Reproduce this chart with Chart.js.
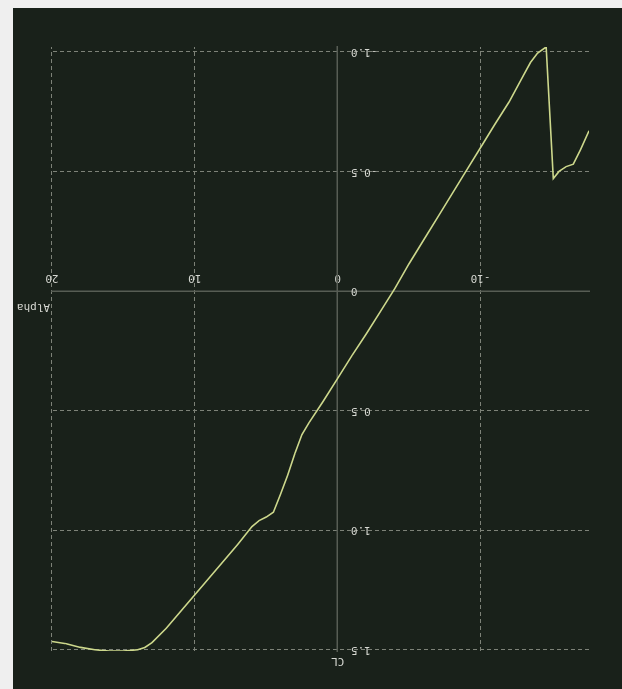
<!DOCTYPE html>
<html>
<head>
<meta charset="utf-8">
<script src="https://cdn.jsdelivr.net/npm/chart.js@4"></script>
<style>
  html, body { margin: 0; padding: 0; background: #efefef; }
  #page { position: absolute; left: 0; top: 0; width: 622px; height: 689px; transform: rotate(180deg); }
  #box { position: absolute; left: 0; top: 0; width: 609px; height: 681px; background: #19211a; }
</style>
</head>
<body>
<div id="page"><div id="box"><canvas id="polarChart"></canvas></div></div>
<script>
// lift polar: angle of attack (deg) vs lift coefficient
const alpha = [-17.6, -17.0, -16.5, -16.0, -15.5, -15.1, -14.6, -14.0, -13.5, -13.0,
  -12.0, -11.0, -10.0, -9.0, -8.0, -7.0, -6.0, -5.0, -4.0, -3.0,
  -2.0, -1.0, 0.0, 1.0, 2.0, 2.5, 3.0, 3.5, 4.0, 4.5,
  5.0, 5.5, 6.0, 7.0, 8.0, 9.0, 10.0, 11.0, 12.0, 13.0,
  13.5, 14.0, 15.0, 16.0, 17.0, 18.0, 19.0, 20.0];
const cl = [-0.67, -0.59, -0.53, -0.52, -0.50, -0.47, -1.02, -0.995, -0.955, -0.90,
  -0.79, -0.696, -0.599, -0.502, -0.405, -0.308, -0.211, -0.114, -0.01, 0.085,
  0.18, 0.27, 0.365, 0.46, 0.55, 0.60, 0.68, 0.77, 0.85, 0.925,
  0.945, 0.96, 0.985, 1.06, 1.13, 1.20, 1.27, 1.34, 1.41, 1.47,
  1.49, 1.50, 1.505, 1.505, 1.50, 1.49, 1.475, 1.465];

const xTicks = [-10, 0, 10, 20];
const yTicks = [-1.0, -0.5, 0, 0.5, 1.0, 1.5];
const xTitle = 'Alpha';
const yTitle = 'CL';

const textColor = '#d6d8d2';
const gridColor = '#7d8278';
const axisColor = '#575d54';
const fontSpec = { family: '"DejaVu Sans Mono", monospace', size: 11 };

// axis names sit at the ends of the crossing axes
const axisTitles = {
  id: 'axisTitles',
  afterDraw(chart) {
    const { ctx, chartArea, scales } = chart;
    const x0 = scales.x.getPixelForValue(0);
    const y0 = scales.y.getPixelForValue(0);
    ctx.save();
    ctx.fillStyle = textColor;
    ctx.font = '11px "DejaVu Sans Mono", monospace';
    ctx.textBaseline = 'middle';
    ctx.textAlign = 'left';
    ctx.fillText(xTitle, chartArea.right + 2, y0 - 16);
    ctx.textAlign = 'center';
    ctx.fillText(yTitle, x0, chartArea.top - 10);
    ctx.restore();
  }
};

new Chart(document.getElementById('polarChart'), {
  type: 'line',
  data: {
    datasets: [{
      data: alpha.map((a, i) => ({ x: a, y: cl[i] })),
      borderColor: '#cdd88c',
      borderWidth: 1.6,
      pointRadius: 0,
      tension: 0
    }]
  },
  options: {
    responsive: true,
    maintainAspectRatio: false,
    animation: false,
    layout: { padding: { left: 33, right: 39, top: 38, bottom: 39 } },
    plugins: { legend: { display: false }, tooltip: { enabled: false } },
    scales: {
      x: {
        type: 'linear',
        position: { y: 0 },
        min: Math.min(...alpha),
        max: Math.max(...alpha),
        afterBuildTicks: s => { s.ticks = xTicks.map(v => ({ value: v })); },
        grid: {
          color: c => (c.tick && c.tick.value === 0 ? 'transparent' : gridColor),
          lineWidth: 1,
          drawTicks: false
        },
        border: { color: axisColor, width: 1.5, dash: [4, 3] },
        ticks: { color: textColor, font: fontSpec, padding: 7, maxRotation: 0, autoSkip: false }
      },
      y: {
        type: 'linear',
        position: { x: 0 },
        min: Math.min(...cl),
        max: Math.max(...cl),
        afterBuildTicks: s => { s.ticks = yTicks.map(v => ({ value: v })); },
        grid: {
          color: c => (c.tick && c.tick.value === 0 ? 'transparent' : gridColor),
          lineWidth: 1,
          drawTicks: false
        },
        border: { color: axisColor, width: 1.5, dash: [4, 3] },
        ticks: {
          color: textColor, font: fontSpec, autoSkip: false,
          // centred axes ignore tick padding, so keep labels off the line with trailing spaces
          callback: v => (v === 0 ? '0' : v.toFixed(1)) + '  '
        }
      }
    }
  },
  plugins: [axisTitles]
});
</script>
</body>
</html>
